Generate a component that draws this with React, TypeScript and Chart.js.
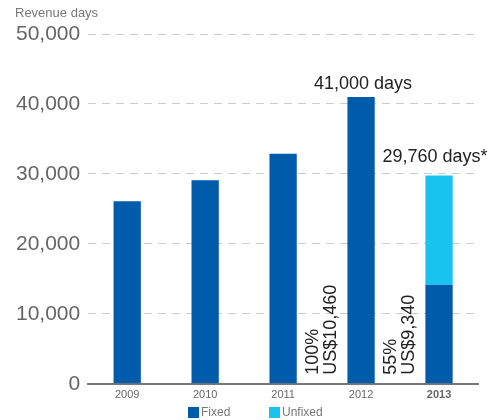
import React, { useEffect, useRef } from "react";
import { Chart, registerables } from "chart.js";

Chart.register(...registerables);

const categories = ["2009", "2010", "2011", "2012", "2013"];
const fixedDays = [26100, 29100, 32900, 41000, 14150];
const unfixedDays = [0, 0, 0, 0, 15610];
const yTicks = [0, 10000, 20000, 30000, 40000, 50000];
const totalLabels = [
  { index: 3, text: "41,000 days", value: 41000 },
  { index: 4, text: "29,760 days*", value: 29760 },
];
const sideNotes = [
  { between: [2, 3], lines: ["100%", "US$10,460"] },
  { between: [3, 4], lines: ["55%", "US$9,340"] },
];
const seriesNames = ["Fixed", "Unfixed"];
const seriesColors = ["#005baa", "#18c3f0"];

const FONT = "'Liberation Sans', Arial, sans-serif";

export default function App() {
  const ref = useRef<HTMLCanvasElement | null>(null);
  useEffect(() => {
    document.body.style.margin = "0";
    const canvas = ref.current;
    if (!canvas) return;
    const annot = {
      id: "annot",
      afterDatasetsDraw(chart: any) {
        const ctx = chart.ctx;
        const x = chart.scales.x;
        const y = chart.scales.y;
        ctx.save();
        // axis title
        ctx.fillStyle = "#777";
        ctx.font = `13px ${FONT}`;
        ctx.textAlign = "left";
        ctx.textBaseline = "middle";
        ctx.fillText("Revenue days", 15, 13);
        // total labels
        ctx.fillStyle = "#222";
        ctx.font = `18px ${FONT}`;
        ctx.textAlign = "center";
        ctx.textBaseline = "middle";
        const dx = [2, -4];
        const dy = [13, 19];
        totalLabels.forEach((t, i) => {
          const px = x.getPixelForValue(t.index) + dx[i];
          const py = y.getPixelForValue(t.value) - dy[i];
          ctx.fillText(t.text, px, py);
        });
        // rotated notes
        sideNotes.forEach((n) => {
          const mid =
            (x.getPixelForValue(n.between[0]) + x.getPixelForValue(n.between[1])) / 2;
          ctx.save();
          ctx.translate(mid - 9, y.getPixelForValue(0) - 9);
          ctx.rotate(-Math.PI / 2);
          ctx.textAlign = "left";
          ctx.textBaseline = "middle";
          n.lines.forEach((l, k) => ctx.fillText(l, 0, k * 18));
          ctx.restore();
        });
        // legend
        ctx.font = `12px ${FONT}`;
        ctx.textAlign = "left";
        ctx.textBaseline = "middle";
        const legendX = [188, 269];
        seriesNames.forEach((name, i) => {
          ctx.fillStyle = seriesColors[i];
          ctx.fillRect(legendX[i], 407, 11, 11);
          ctx.fillStyle = "#777";
          ctx.fillText(name, legendX[i] + 13, 413);
        });
        ctx.restore();
      },
    };
    const chart = new Chart(canvas, {
      type: "bar",
      data: {
        labels: categories,
        datasets: [
          { label: seriesNames[0], data: fixedDays, backgroundColor: seriesColors[0] },
          { label: seriesNames[1], data: unfixedDays, backgroundColor: seriesColors[1] },
        ],
      },
      options: {
        animation: false,
        responsive: false,
        maintainAspectRatio: false,
        layout: { padding: { left: 8, right: 19, top: 34, bottom: 13 } },
        datasets: { bar: { categoryPercentage: 1, barPercentage: 0.35 } },
        plugins: { legend: { display: false }, tooltip: { enabled: false } },
        scales: {
          x: {
            stacked: true,
            grid: { display: false, drawTicks: false },
            border: { display: true, color: "#777", width: 2 },
            ticks: {
              padding: 5,
              color: "#666",
              font: (c: any) => ({
                family: FONT,
                size: 11,
                weight: c.index === 4 ? "bold" : "normal",
              }),
            },
          },
          y: {
            stacked: true,
            min: 0,
            max: 50000,
            afterBuildTicks: (axis: any) => {
              axis.ticks = yTicks.map((v) => ({ value: v }));
            },
            grid: { color: "#ccc", lineWidth: 1, drawTicks: false },
            border: { display: false, dash: [8, 6] },
            ticks: {
              padding: 8,
              color: "#666",
              font: { family: FONT, size: 21 },
              callback: (v: any) => Number(v).toLocaleString("en-US"),
            },
          },
        },
      },
      plugins: [annot],
    } as any);
    return () => chart.destroy();
  }, []);
  return <canvas ref={ref} width={497} height={420} style={{ display: "block" }} />;
}
